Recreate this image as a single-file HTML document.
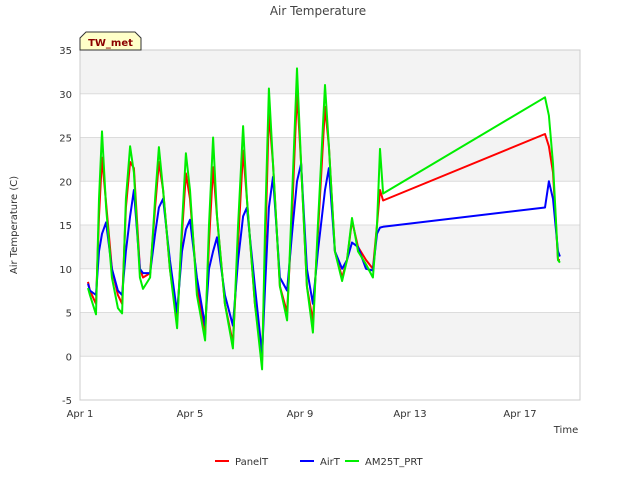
<!DOCTYPE html>
<html><head><meta charset="utf-8"><style>
body{margin:0;background:#fff;font-family:"DejaVu Sans","Liberation Sans",sans-serif}
svg text{font-family:"DejaVu Sans","Liberation Sans",sans-serif}
</style></head><body>
<svg width="640" height="480" xmlns="http://www.w3.org/2000/svg">
<g id="bands"></g>
<g id="grid"></g>
<g id="axes"></g>
<g id="series"></g>
<text x="318" y="15" text-anchor="middle" font-size="12" fill="#444">Air Temperature</text>
<text x="566" y="433" text-anchor="middle" font-size="10" fill="#333">Time</text>
<text transform="translate(17,225) rotate(-90)" text-anchor="middle" font-size="10" fill="#333">Air Temperature (C)</text>
<g>
<path d="M80,50 L80,38 L86,32 L135,32 L141,38 L141,50 Z" fill="#ffffc8" stroke="#333" stroke-width="1"/>
<text x="110.5" y="46" text-anchor="middle" font-size="10" font-weight="bold" fill="#8b0000">TW_met</text>
</g>
<g id="legend"></g>
</svg>
<script>
const days=[0.29,0.36,0.58,0.69,0.80,0.95,1.16,1.38,1.53,1.67,1.82,1.96,2.18,2.29,2.55,2.73,2.87,3.02,3.27,3.53,3.71,3.85,4.00,4.25,4.55,4.69,4.84,4.98,5.27,5.56,5.75,5.93,6.07,6.36,6.62,6.73,6.87,7.02,7.27,7.53,7.71,7.89,8.04,8.25,8.47,8.65,8.91,9.05,9.27,9.53,9.71,9.89,10.11,10.40,10.65,10.80,10.91,11.02,16.91,17.05,17.20,17.38,17.45];
const panelT=[8.5,7.5,6,16,22.7,17.5,10,7,6,17,22.2,21.5,10,9,9.5,17,22.2,19,10,4,14,20.9,18,8,2.5,13,21.6,16,6,1.5,13,23.5,18,6,-0.5,12,27.9,22,8,5,16,30.2,22,8,4,14,28.5,24,12,9,11,15.5,12.5,11,10,15,19,17.8,25.4,24,21,11,11];
const airT=[8.3,7.5,7,12,14,15.3,10,7.5,7,12,16,19,10,9.5,9.5,14,17,18,11,5,12,14.5,15.6,9,3.5,10,12,13.6,7,3.5,11,16,17,8,0.2,8,17,20.5,9,7.5,14,20,22,10,6,12,19,21.5,12,10,11,13,12.5,10,9.8,14,14.7,14.8,17,20,18,12,11.4];
const am25T=[7.8,7,4.8,18,25.7,17,9,5.5,4.9,18,24,21,9,7.7,9,18,23.9,19,10,3.2,15,23.2,19,7,1.8,15,25,16,6,0.9,15,26.3,18,6,-1.5,15,30.6,22,8,4.1,18,32.9,22,8,2.7,15,31,24,12,8.6,11,15.8,12,10.5,9,15,23.7,18.6,29.6,27.5,22,11,10.7];
const yTicks=[-5,0,5,10,15,20,25,30,35];
const xTickDays=[0,4,8,12,16];
const xTickLabels=["Apr 1","Apr 5","Apr 9","Apr 13","Apr 17"];
const seriesNames=["PanelT","AirT","AM25T_PRT"];
const seriesColors=["#ff0000","#0000ff","#00ee00"];
const seriesData=[panelT,airT,am25T];

const L=80,R=580,T=50,B=400,ymin=-5,ymax=35;
const xs=d=>L+d*27.5;
const ys=v=>B-(v-ymin)/(ymax-ymin)*(B-T);
const NS="http://www.w3.org/2000/svg";
function mk(tag,attrs,parent){const e=document.createElementNS(NS,tag);for(const k in attrs)e.setAttribute(k,attrs[k]);parent.appendChild(e);return e;}
const bands=document.getElementById('bands'),grid=document.getElementById('grid'),axes=document.getElementById('axes'),ser=document.getElementById('series'),leg=document.getElementById('legend');
for(let i=0;i<yTicks.length-1;i++){
  const gray=(i%2===0)?false:true;
  const r=mk('rect',{x:L,y:ys(yTicks[i+1]),width:R-L,height:ys(yTicks[i])-ys(yTicks[i+1]),fill:gray?'#f3f3f3':'#ffffff'},bands);
  
  
}
yTicks.forEach(v=>{
  const l=mk('line',{x1:L,x2:R,y1:ys(v),y2:ys(v),stroke:'#dcdcdc','stroke-width':1},grid);
  
  
  const t=mk('text',{x:L-8,y:ys(v)+4,'text-anchor':'end','font-size':10,fill:'#333'},axes);
  t.textContent=v;
  
  
});
const frame=mk('rect',{x:L,y:T,width:R-L,height:B-T,fill:'none',stroke:'#cccccc','stroke-width':1},axes);


xTickDays.forEach((d,i)=>{
  const t=mk('text',{x:xs(d),y:B+17,'text-anchor':'middle','font-size':10,fill:'#333'},axes);
  t.textContent=xTickLabels[i];
  
  
});
seriesData.forEach((arr,si)=>{
  const pts=arr.map((v,i)=>xs(days[i]).toFixed(1)+','+ys(v).toFixed(1)).join(' ');
  const p=mk('polyline',{points:pts,fill:'none',stroke:seriesColors[si],'stroke-width':2,'stroke-linejoin':'round'},ser);
  
  
});
const legX=[215,300,345];
seriesNames.forEach((n,i)=>{
  const g=mk('g',{},leg);
  
  
  mk('line',{x1:legX[i],x2:legX[i]+14,y1:461,y2:461,stroke:seriesColors[i],'stroke-width':2},g);
  const t=mk('text',{x:legX[i]+20,y:465,'font-size':10,fill:'#333'},g);
  t.textContent=n;
});
</script>
</body></html>
